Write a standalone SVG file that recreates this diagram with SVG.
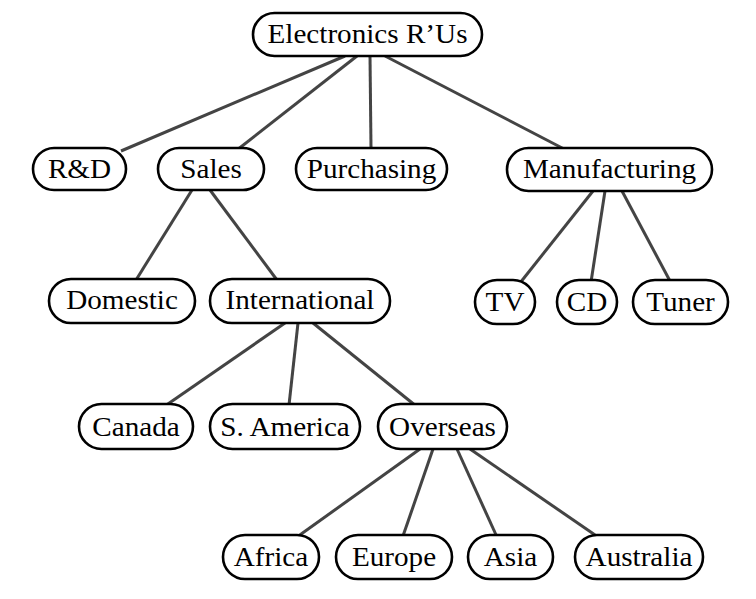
<svg xmlns="http://www.w3.org/2000/svg" width="756" height="599" viewBox="0 0 756 599">
<style>
.n rect{fill:#fff;stroke:#000;stroke-width:2.6}
.n text{font-family:"Liberation Serif","Times New Roman",serif;font-size:27px;fill:#000;text-anchor:middle}
#edges line{stroke:#444;stroke-width:3;stroke-linecap:butt}
</style>
<rect width="756" height="599" fill="#fff"/>
<g id="edges">
<line x1="345" y1="56" x2="121" y2="151"/>
<line x1="357" y1="56" x2="237" y2="150"/>
<line x1="370" y1="56" x2="371" y2="148"/>
<line x1="385" y1="56" x2="566" y2="150"/>
<line x1="192" y1="190" x2="136" y2="280"/>
<line x1="210" y1="190" x2="277" y2="280"/>
<line x1="593" y1="191" x2="520" y2="283"/>
<line x1="605" y1="191" x2="591" y2="282"/>
<line x1="622" y1="191" x2="670" y2="281"/>
<line x1="285" y1="323" x2="165" y2="406"/>
<line x1="298" y1="323" x2="289" y2="405"/>
<line x1="313" y1="323" x2="416" y2="406"/>
<line x1="420" y1="449" x2="297" y2="537"/>
<line x1="433" y1="449" x2="403" y2="536"/>
<line x1="457" y1="449" x2="497" y2="537"/>
<line x1="470" y1="449" x2="598" y2="537"/>
</g>
<g id="root" class="n"><rect x="253" y="13" width="229" height="43" rx="21.5"/><text transform="translate(367.5,43) scale(1.08,1)">Electronics R’Us</text></g>
<g id="rd" class="n"><rect x="33" y="148" width="93" height="42" rx="21"/><text transform="translate(79.5,178) scale(1.08,1)">R&amp;D</text></g>
<g id="sales" class="n"><rect x="158" y="148" width="106" height="42" rx="21"/><text transform="translate(211,178) scale(1.08,1)">Sales</text></g>
<g id="purchasing" class="n"><rect x="296" y="148" width="151" height="42" rx="21"/><text transform="translate(371.5,178) scale(1.08,1)">Purchasing</text></g>
<g id="manufacturing" class="n"><rect x="507" y="148" width="205" height="43" rx="21.5"/><text transform="translate(609.5,178) scale(1.08,1)">Manufacturing</text></g>
<g id="domestic" class="n"><rect x="49" y="279" width="146" height="44" rx="22"/><text transform="translate(122,309) scale(1.08,1)">Domestic</text></g>
<g id="international" class="n"><rect x="210" y="279" width="180" height="44" rx="22"/><text transform="translate(300,309) scale(1.08,1)">International</text></g>
<g id="tv" class="n"><rect x="475" y="280" width="60" height="44" rx="22"/><text transform="translate(505,311) scale(1.08,1)">TV</text></g>
<g id="cd" class="n"><rect x="557" y="280" width="60" height="44" rx="22"/><text transform="translate(587,311) scale(1.08,1)">CD</text></g>
<g id="tuner" class="n"><rect x="633" y="280" width="95" height="44" rx="22"/><text transform="translate(680.5,311) scale(1.08,1)">Tuner</text></g>
<g id="canada" class="n"><rect x="79" y="404" width="114" height="45" rx="22.5"/><text transform="translate(136,436) scale(1.08,1)">Canada</text></g>
<g id="samerica" class="n"><rect x="210" y="404" width="150" height="45" rx="22.5"/><text transform="translate(285,436) scale(1.08,1)">S. America</text></g>
<g id="overseas" class="n"><rect x="378" y="404" width="129" height="45" rx="22.5"/><text transform="translate(442.5,436) scale(1.08,1)">Overseas</text></g>
<g id="africa" class="n"><rect x="223" y="535" width="96" height="44" rx="22"/><text transform="translate(271,566) scale(1.08,1)">Africa</text></g>
<g id="europe" class="n"><rect x="336" y="535" width="116" height="44" rx="22"/><text transform="translate(394,566) scale(1.08,1)">Europe</text></g>
<g id="asia" class="n"><rect x="468" y="535" width="85" height="44" rx="22"/><text transform="translate(510.5,566) scale(1.08,1)">Asia</text></g>
<g id="australia" class="n"><rect x="575" y="535" width="128" height="44" rx="22"/><text transform="translate(639,566) scale(1.08,1)">Australia</text></g>
</svg>
